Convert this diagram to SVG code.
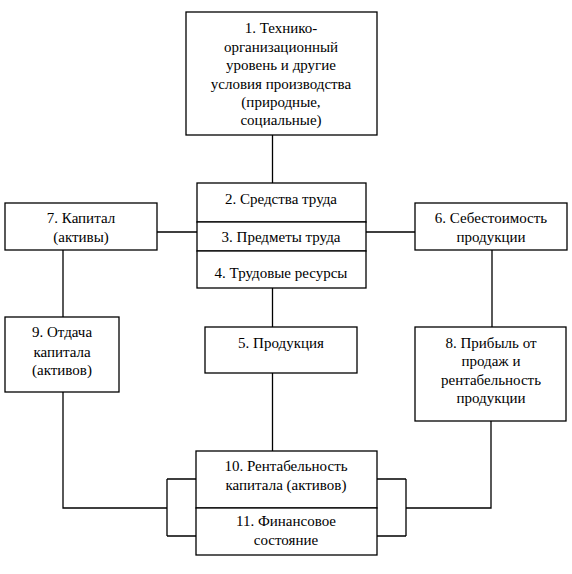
<svg xmlns="http://www.w3.org/2000/svg" width="572" height="574" viewBox="0 0 572 574">
<style>
.b{fill:#fff;stroke:#000;stroke-width:1.3}
.c{fill:none;stroke:#000;stroke-width:1.3}
text{font-size:15px;fill:#000;text-anchor:middle}
</style>
<rect width="572" height="574" fill="#fff"/>
<g id="connectors">
<path class="c" d="M272.5 135V183M272.5 288V327M272.5 373V451M157 232H197M366 232H415M63 250V317M63 392V508H167M492 250V327M491 421V508H406M167 479V536M167 479H196M167 536H196M406 479V536M377 479H406M377 536H406"/>
</g>
<g font-family="Times New Roman, Liberation Serif, DejaVu Serif, serif">
<g id="n1"><rect class="b" x="186" y="12" width="191" height="123"/>
<text x="281" y="33">1. Технико-</text><text x="281" y="52">организационный</text><text x="281" y="70">уровень и другие</text><text x="281" y="89">условия производства</text><text x="281" y="107">(природные,</text><text x="281" y="125">социальные)</text></g>
<g id="n2"><rect class="b" x="197" y="183" width="169" height="39"/><text x="281" y="204">2. Средства труда</text></g>
<g id="n3"><rect class="b" x="197" y="222" width="169" height="29"/><text x="281" y="242">3. Предметы труда</text></g>
<g id="n4"><rect class="b" x="197" y="251" width="169" height="37"/><text x="281" y="278">4. Трудовые ресурсы</text></g>
<g id="n7"><rect class="b" x="5" y="203" width="152" height="47"/><text x="81" y="223">7. Капитал</text><text x="81" y="242">(активы)</text></g>
<g id="n6"><rect class="b" x="415" y="203" width="152" height="47"/><text x="491" y="223">6. Себестоимость</text><text x="491" y="242">продукции</text></g>
<g id="n5"><rect class="b" x="205" y="327" width="152" height="46"/><text x="281" y="348">5. Продукция</text></g>
<g id="n9"><rect class="b" x="5" y="317" width="114" height="75"/><text x="62" y="337">9. Отдача</text><text x="62" y="357">капитала</text><text x="62" y="375">(активов)</text></g>
<g id="n8"><rect class="b" x="415" y="327" width="151" height="94"/><text x="491" y="348">8. Прибыль от</text><text x="491" y="366">продаж и</text><text x="491" y="385">рентабельность</text><text x="491" y="403">продукции</text></g>
<g id="n10"><rect class="b" x="196" y="451" width="181" height="57"/><text x="286" y="471">10. Рентабельность</text><text x="286" y="490">капитала (активов)</text></g>
<g id="n11"><rect class="b" x="196" y="508" width="181" height="47"/><text x="286" y="526">11. Финансовое</text><text x="286" y="545">состояние</text></g>
</g>
</svg>
